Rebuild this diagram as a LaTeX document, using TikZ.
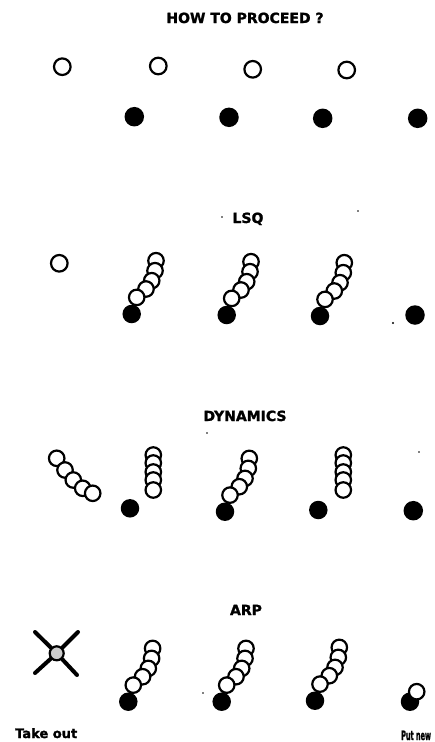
\documentclass[tikz,border=0pt]{standalone}
\usepackage{fontspec}
\newfontfamily\lblfont{DejaVu Sans Bold}[FakeBold=1.5]
\begin{document}
\begin{tikzpicture}[x=1pt,y=-1pt,
  ballopen/.style={circle,draw=black,fill=white,line width=2.2pt,inner sep=0pt,minimum size=15.5pt},
  bigopen/.style={ballopen,minimum size=16.6pt},
  ballfull/.style={circle,fill=black,inner sep=0pt,minimum size=18.5pt},
  bigfull/.style={ballfull,minimum size=19.5pt},
  heading/.style={font=\lblfont\fontsize{14}{16}\selectfont,inner sep=0pt,anchor=base},
  caption/.style={font=\lblfont\fontsize{13}{15}\selectfont,inner sep=0pt,anchor=base west},
  speck/.style={fill=black},
  cross/.style={line width=4pt,line cap=round},
  pics/bendchain/.style={code={
    \node[ballfull] (-f) at (0,0) {};
    \node[ballopen] (-o5) at (24.3,-53.3) {};
    \node[ballopen] (-o4) at (23.3,-43.3) {};
    \node[ballopen] (-o3) at (20,-33.3) {};
    \node[ballopen] (-o2) at (14.3,-25) {};
    \node[ballopen] (-o1) at (5,-16.6) {};
  }},
  pics/stack/.style={code={
    \node[ballopen] (-o5) at (0,0) {};
    \node[ballopen] (-o4) at (0,8) {};
    \node[ballopen] (-o3) at (0,17) {};
    \node[ballopen] (-o2) at (0,25) {};
    \node[ballopen] (-o1) at (0,35) {};
  }}
]
\useasboundingbox (0,0) rectangle (434,742);

% ---- how to proceed
\node[heading] (t0) at (245,23) {HOW TO PROCEED ?};
\node[bigopen] (a1) at (62.3,66.7) {};
\node[bigopen] (a2) at (158.3,66) {};
\node[bigopen] (a3) at (252.7,69.3) {};
\node[bigopen] (a4) at (346.7,70) {};
\node[bigfull] (b1) at (134.3,116.7) {};
\node[bigfull] (b2) at (229,117.3) {};
\node[bigfull] (b3) at (322.7,118.3) {};
\node[bigfull] (b4) at (417.7,118.3) {};

% ---- LSQ
\node[heading] (t1) at (248,223) {LSQ};
\node[bigopen] (l0) at (59.3,263.3) {};
\pic (l1) at (131.7,314) {bendchain};
\pic (l2) at (226.7,315) {bendchain};
\pic (l3) at (320,316) {bendchain};
\node[bigfull] (l4) at (415,315) {};

% ---- dynamics
\node[heading] (t2) at (245,421) {DYNAMICS};
\node[ballopen] (d1) at (56.7,458.3) {};
\node[ballopen] (d2) at (65,470) {};
\node[ballopen] (d3) at (73.3,480) {};
\node[ballopen] (d4) at (82.7,488.3) {};
\node[ballopen] (d5) at (92.7,493.3) {};
\node[ballfull] (df1) at (130,508.3) {};
\pic (ds1) at (153.3,455) {stack};
\pic (dc) at (225,511.7) {bendchain};
\node[ballfull] (df3) at (318.3,510) {};
\pic (ds3) at (343.3,455) {stack};
\node[bigfull] (df4) at (413.3,510.7) {};

% ---- ARP
\node[heading] (t3) at (246,615) {ARP};
\node[circle,draw=black,fill=gray!40,line width=2.2pt,inner sep=0pt,minimum size=14pt] (xo) at (56.7,653.3) {};
\coordinate (xa) at (35,632);
\coordinate (xb) at (77,675);
\coordinate (xc) at (78,632);
\coordinate (xd) at (35,673);
\draw[cross] (xa) -- (xo) -- (xb);
\draw[cross] (xc) -- (xo) -- (xd);
\pic (r1) at (128.3,701.7) {bendchain};
\pic (r2) at (221.7,701.7) {bendchain};
\pic (r3) at (315,700.7) {bendchain};
\node[ballfull] (rf) at (410,701.7) {};
\node[ballopen] (ro) at (416.7,691.7) {};

\node[caption] (c1) at (15,738) {Take out};
\node[caption] (c2) at (401,740) {\scalebox{0.5}[1]{Put new}};

% ---- small specks
\fill[speck] (222,217) circle (0.9);
\fill[speck] (358,211) circle (0.9);
\fill[speck] (393,323) circle (1.1);
\fill[speck] (207,433) circle (0.8);
\fill[speck] (419,452) circle (0.8);
\fill[speck] (203,693) circle (0.8);
\end{tikzpicture}
\end{document}
